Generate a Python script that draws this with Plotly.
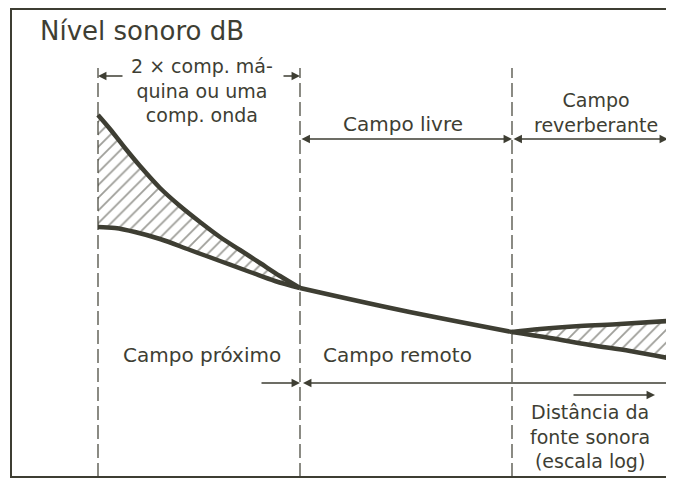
import plotly.graph_objects as go

# schematic values (distance on a log-like axis, level in arbitrary dB units)
near_upper_x = [98, 110, 125, 140, 160, 180, 200, 220, 240, 260, 280, 300]
near_upper_db = [364, 350, 331, 313, 291, 273, 257, 242, 229, 216, 203, 191]
near_lower_x = [98, 115, 135, 160, 190, 220, 250, 275, 300]
near_lower_db = [252, 251, 247, 240, 229, 218, 207, 198, 191]
free_x = [300, 400, 512]
free_db = [191, 169, 147]
rev_upper_x = [512, 540, 580, 620, 668]
rev_upper_db = [147, 150, 153, 155, 158]
rev_lower_x = [512, 550, 590, 630, 668]
rev_lower_db = [147, 141, 134, 128, 121]

bounds_x = [98, 300, 512]

ink = "#3e3e33"
font = "DejaVu Sans"

fig = go.Figure()

def hatched(xu, yu, xl, yl):
    fig.add_trace(go.Scatter(x=xl, y=yl, mode="lines", line=dict(color=ink, width=4.5, shape="spline"),
                             hoverinfo="skip"))
    fig.add_trace(go.Scatter(x=xu, y=yu, mode="lines", line=dict(color=ink, width=4.5, shape="spline"),
                             fill="tonexty", fillcolor="rgba(0,0,0,0)",
                             fillpattern=dict(shape="/", fgcolor=ink, bgcolor="rgba(0,0,0,0)", size=9, solidity=0.2),
                             hoverinfo="skip"))

hatched(near_upper_x, near_upper_db, near_lower_x, near_lower_db)
fig.add_trace(go.Scatter(x=free_x, y=free_db, mode="lines", line=dict(color=ink, width=4.5, shape="spline"),
                         hoverinfo="skip"))
hatched(rev_upper_x, rev_upper_db, rev_lower_x, rev_lower_db)

# frame and dashed field boundaries
fig.add_shape(type="rect", x0=11, y0=2, x1=671, y1=470, line=dict(color=ink, width=2))
for bx in bounds_x:
    fig.add_shape(type="line", x0=bx, x1=bx, y0=2, y1=411, line=dict(color=ink, width=1.2, dash="14px,5px"))

def arrow(x0, x1, y, both=False):
    fig.add_annotation(x=x1, y=y, ax=x0, ay=y, xref="x", yref="y", axref="x", ayref="y", text="",
                       showarrow=True, arrowhead=2, arrowsize=1.3, arrowwidth=1.3, arrowcolor=ink,
                       arrowside="end+start" if both else "end")

def label(x, y, t, size=20, xanchor="center"):
    fig.add_annotation(x=x, y=y, xref="x", yref="y", text=t, showarrow=False, xanchor=xanchor,
                       align="center", font=dict(family=font, size=size, color=ink))

label(38, 448, "Nível sonoro dB", size=26, xanchor="left")

arrow(124, 98, 403)
arrow(282, 300, 403)
label(202, 389, "2 × comp. má-<br>quina ou uma<br>comp. onda", size=19)

arrow(300, 512, 340, both=True)
label(403, 355, "Campo livre")
arrow(512, 668, 340, both=True)
label(596, 367, "Campo<br>reverberante", size=19)

label(202, 124, "Campo próximo")
label(397, 124, "Campo remoto")
arrow(260, 300, 96)
arrow(668, 303, 96)

arrow(572, 655, 84)
label(590, 43, "Distância da<br>fonte sonora<br>(escala log)", size=19)

# the page body keeps an 8px margin, so the figure is sized to the remaining window
fig.update_xaxes(range=[8, 674], visible=False)
fig.update_yaxes(range=[0, 471], visible=False)
fig.update_layout(width=666, height=471, margin=dict(l=0, r=0, t=0, b=0),
                  plot_bgcolor="white", paper_bgcolor="white", showlegend=False)
fig.write_html("out.html")
